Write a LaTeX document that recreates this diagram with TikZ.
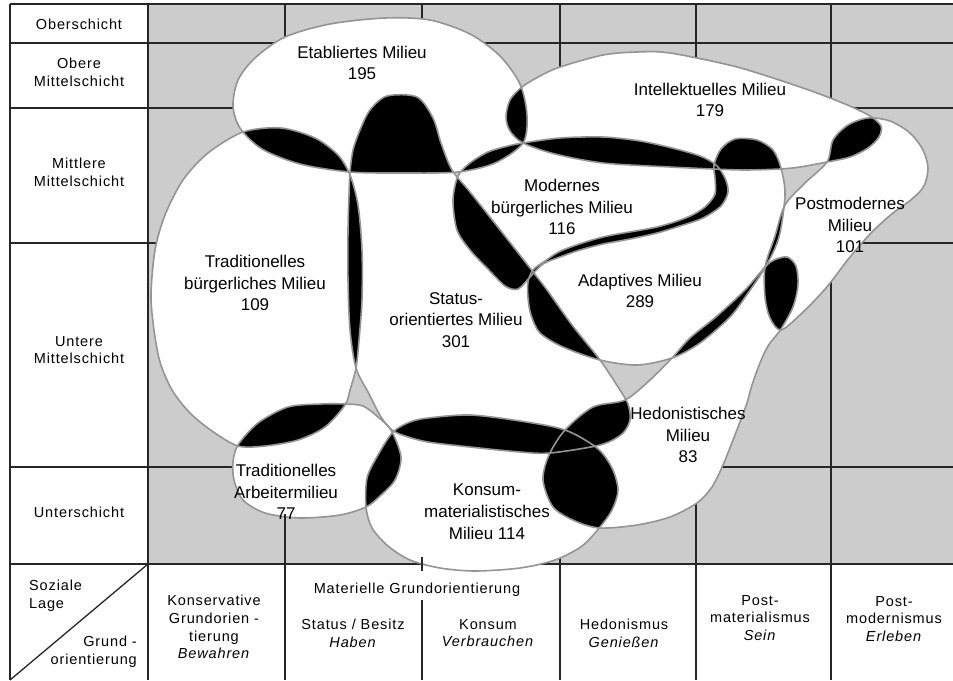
\documentclass[tikz,border=0pt]{standalone}
\usepackage{fontspec}
\setmainfont{Liberation Sans}
\newfontfamily\spfont[LetterSpace=6]{Liberation Sans}

\newcommand\blobE{plot[smooth cycle] coordinates {(233,106) (238,80) (255,58) (285,37) (330,24) (385,18) (430,20) (470,34) (500,56) (520,84) (527,115) (523,143) (495,163) (458,172) (405,173) (350,172) (300,164) (262,149) (240,128)}}
\newcommand\blobT{plot[smooth cycle] coordinates {(243,132) (281,128) (315,138) (338,155) (350,175) (358,205) (362,250) (362,300) (359,340) (356,368) (350,390) (345,405) (325,427) (298,440) (265,446) (238,446) (212,431) (190,413) (172,390) (160,362) (154,330) (151,295) (155,250) (165,215) (183,180) (208,153)}}
\newcommand\blobS{plot[smooth cycle] coordinates {(350,172) (353,150) (360,130) (370,110) (387,96) (417,97) (433,118) (441,143) (452,170) (470,192) (497,226) (530,268) (547,290) (572,325) (600,360) (618,387) (628,404) (630,420) (622,434) (600,445) (550,453) (520,452) (470,447) (428,442) (405,436) (392,430) (381,417) (368,392) (356,368) (350,330) (348,280) (348,230) (349,195)}}
\newcommand\blobM{plot[smooth cycle] coordinates {(458,176) (470,163) (488,152) (508,146) (523,143) (560,138) (603,137) (640,141) (672,148) (700,156) (716,165) (725,178) (728,192) (721,206) (703,218) (680,226) (657,233) (630,239) (603,244) (580,250) (560,257) (543,264) (530,277) (518,289) (505,286) (487,268) (470,250) (457,230) (453,200)}}
\newcommand\blobA{plot[smooth cycle] coordinates {(528,282) (533,270) (545,261) (563,250) (603,237) (657,227) (688,217) (705,207) (715,194) (715,178) (714,165) (721,149) (735,139) (757,140) (773,150) (781,168) (785,195) (779,237) (766,266) (748,293) (730,317) (700,343) (672,358) (637,365) (600,360) (563,347) (540,333) (531,315) (528,298)}}
\newcommand\blobI{plot[smooth cycle] coordinates {(506,117) (510,100) (522,87) (540,76) (560,67) (603,55) (637,52) (670,53) (737,67) (803,88) (845,104) (870,116) (881,126) (879,137) (868,148) (850,157) (827,162) (800,167) (780,169) (745,170) (713,169) (670,167) (603,163) (555,154) (523,143) (510,131)}}
\newcommand\blobP{plot[smooth cycle] coordinates {(827,162) (833,140) (848,125) (868,118) (890,121) (910,133) (923,150) (928,168) (924,186) (912,199) (893,213) (872,232) (850,257) (826,288) (802,313) (781,330) (770,318) (765,297) (765,267) (775,236) (785,205) (805,183)}}
\newcommand\blobH{plot[smooth cycle] coordinates {(765,267) (774,260) (787,257) (796,266) (798,285) (793,307) (781,329) (768,346) (760,363) (752,385) (747,403) (740,422) (733,440) (723,465) (712,487) (697,503) (670,517) (637,525) (600,528) (575,521) (553,507) (543,480) (549,455) (565,430) (593,407) (625,400) (650,380) (672,358) (690,338) (717,316) (745,290)}}
\newcommand\blobK{plot[smooth cycle] coordinates {(393,432) (410,422) (428,418) (470,415) (520,421) (565,430) (597,448) (612,468) (618,490) (612,510) (600,527) (582,546) (555,560) (520,568) (475,571) (440,568) (410,560) (388,546) (372,528) (366,507) (367,478) (378,455)}}
\newcommand\blobW{plot[smooth cycle] coordinates {(238,445) (258,423) (288,407) (321,404) (345,404) (363,406) (378,417) (391,430) (401,457) (395,480) (380,496) (366,507) (340,515) (300,518) (265,513) (243,500) (234,480) (233,462)}}
\newcommand\mylens[2]{\begin{scope}\clip #1;\fill[lensfill] #2;\end{scope}}

\begin{document}
\begin{tikzpicture}[x=1pt,y=-1pt,
  grid/.style={black!85,line width=1.3pt},
  blobline/.style={draw=black!42,line width=1.6pt},
  lensfill/.style={fill=black},
  lab/.style={font=\spfont\fontsize{14.5}{17.8}\selectfont,align=center,inner sep=0pt},
  mil/.style={font=\fontsize{17}{21.8}\selectfont,align=center,inner sep=0pt}]
\useasboundingbox (0,0) rectangle (953,680);
\fill[white] (0,0) rectangle (953,680);
\fill[black!20] (148,4) rectangle (953,564);
% grid
\foreach \y in {4,43,108,243,467,564} \draw[grid] (10,\y) -- (953,\y);
\draw[grid] (10,4) -- (10,680);
\foreach \x in {148,285,560,696,831} \draw[grid] (\x,4) -- (\x,680);
\draw[grid] (422,4) -- (422,571);
\draw[grid] (422,600) -- (422,680);
\draw[grid] (148,564) -- (10,680);
% milieu areas
\fill[white] \blobE; \fill[white] \blobT; \fill[white] \blobS; \fill[white] \blobM;
\fill[white] \blobA; \fill[white] \blobI; \fill[white] \blobP; \fill[white] \blobH;
\fill[white] \blobK; \fill[white] \blobW;
% overlaps
\mylens\blobE\blobT \mylens\blobE\blobS \mylens\blobE\blobI \mylens\blobE\blobM
\mylens\blobT\blobS \mylens\blobT\blobW \mylens\blobS\blobM \mylens\blobS\blobA
\mylens\blobS\blobK \mylens\blobS\blobH \mylens\blobI\blobM \mylens\blobI\blobA
\mylens\blobI\blobP \mylens\blobM\blobA \mylens\blobA\blobP \mylens\blobA\blobH
\mylens\blobP\blobH \mylens\blobH\blobK \mylens\blobW\blobK
% outlines
\draw[blobline] \blobE; \draw[blobline] \blobT; \draw[blobline] \blobS; \draw[blobline] \blobM;
\draw[blobline] \blobA; \draw[blobline] \blobI; \draw[blobline] \blobP; \draw[blobline] \blobH;
\draw[blobline] \blobK; \draw[blobline] \blobW;
% lines on top
\draw[grid] (285,514) -- (285,564);
\draw[grid] (422,557) -- (422,571);
% row labels
\node[lab] (tOber) at (79,24) {Oberschicht};
\node[lab] (tObere) at (79,72) {Obere\\Mittelschicht};
\node[lab] (tMittl) at (79,172) {Mittlere\\Mittelschicht};
\node[lab] (tUnt) at (79,350) {Untere\\Mittelschicht};
\node[lab] (tUnter) at (79,512) {Unterschicht};
\node[lab,align=left,anchor=west] (tSoz) at (29,596) {Soziale\\Lage};
\node[lab,align=right,anchor=east] (tGrund) at (137,652) {Grund -\\orientierung};
% column labels
\node[lab] (tKons) at (214,627) {Konservative\\Grundorien -\\tierung\\\textit{Bewahren}};
\node[lab] (tMat) at (417,590) {Materielle Grundorientierung};
\node[lab] (tStat) at (353,633) {Status / Besitz\\\textit{Haben}};
\node[lab] (tKonsum) at (488,633) {Konsum\\\textit{Verbrauchen}};
\node[lab] (tHed) at (624,633) {Hedonismus\\\textit{Genießen}};
\node[lab] (tPM) at (760,618) {Post-\\materialismus\\\textit{Sein}};
\node[lab] (tPMod) at (894,619) {Post-\\modernismus\\\textit{Erleben}};
% milieu labels
\node[mil] (lE) at (362,63) {Etabliertes Milieu\\195};
\node[mil] (lI) at (710,100) {Intellektuelles Milieu\\179};
\node[mil] (lT) at (255,283) {Traditionelles\\bürgerliches Milieu\\109};
\node[mil] (lS) at (456,320) {Status-\\orientiertes Milieu\\301};
\node[mil] (lM) at (562,207) {Modernes\\bürgerliches Milieu\\116};
\node[mil] (lA) at (640,291) {Adaptives Milieu\\289};
\node[mil] (lP) at (850,225) {Postmodernes\\Milieu\\101};
\node[mil] (lH) at (688,435) {Hedonistisches\\Milieu\\83};
\node[mil] (lW) at (286,492) {Traditionelles\\Arbeitermilieu\\77};
\node[mil] (lK) at (487,512) {Konsum-\\materialistisches\\Milieu 114};
\end{tikzpicture}
\end{document}
